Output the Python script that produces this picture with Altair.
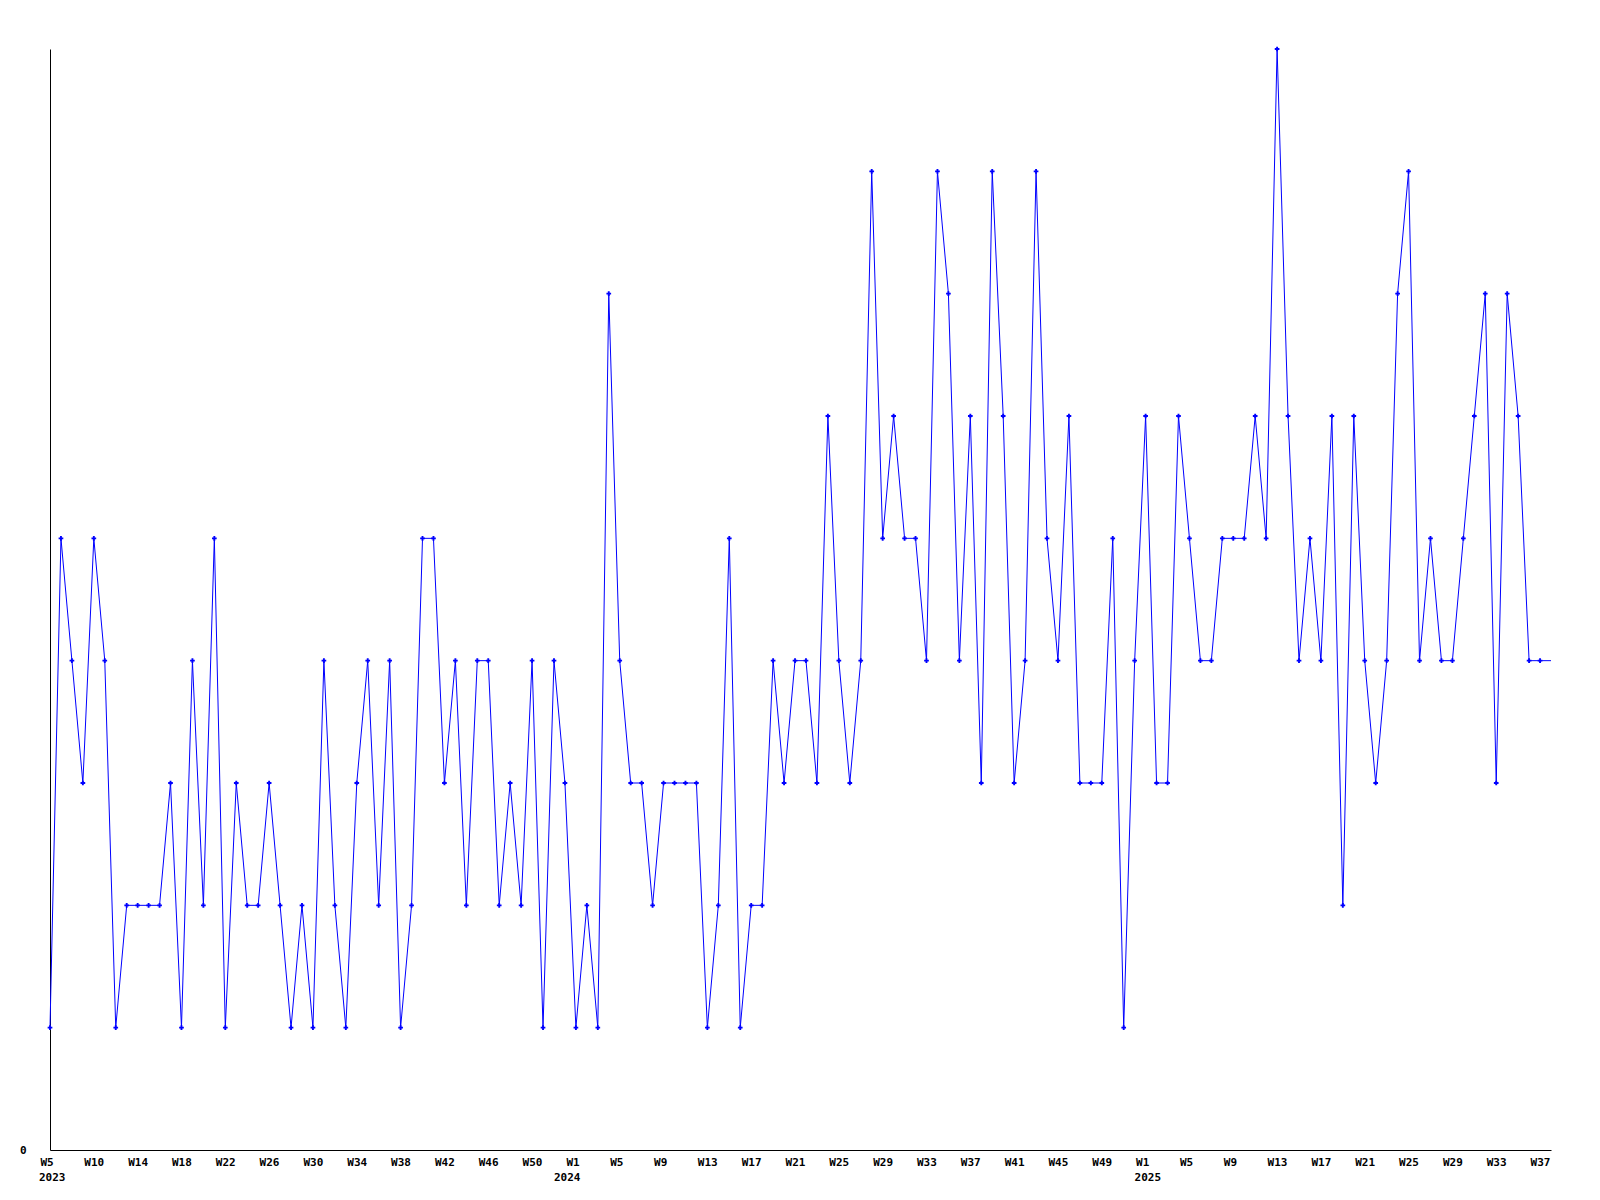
import json
import altair as alt
import pandas as pd

# Weekly values (2023 W5 .. 2025 W38)
values_2023 = [1, 5, 4, 3, 5, 4, 1, 2, 2, 2, 2, 3, 1, 4, 2, 5, 1, 3, 2, 2, 3, 2, 1, 2,
               1, 4, 2, 1, 3, 4, 2, 4, 1, 2, 5, 5, 3, 4, 2, 4, 4, 2, 3, 2, 4, 1, 4, 3]
values_2024 = [1, 2, 1, 7, 4, 3, 3, 2, 3, 3, 3, 3, 1, 2, 5, 1, 2, 2, 4, 3, 4, 4, 3, 6,
               4, 3, 4, 8, 5, 6, 5, 5, 4, 8, 7, 4, 6, 3, 8, 6, 3, 4, 8, 5, 4, 6, 3, 3,
               3, 5, 1, 4]
values_2025 = [6, 3, 3, 6, 5, 4, 4, 5, 5, 5, 6, 5, 9, 6, 4, 5, 4, 6, 2, 6, 4, 3, 4, 7,
               8, 4, 5, 4, 4, 5, 6, 7, 3, 7, 6, 4, 4, 4]

# Axis tick labels (every 4th week) and year captions
tick_labels = ["W5", "W10", "W14", "W18", "W22", "W26", "W30", "W34", "W38", "W42",
               "W46", "W50", "W1", "W5", "W9", "W13", "W17", "W21", "W25", "W29",
               "W33", "W37", "W41", "W45", "W49", "W1", "W5", "W9", "W13", "W17",
               "W21", "W25", "W29", "W33", "W37"]
years = ["2023", "2024", "2025"]
year_week_index = [0, 47, 100]

values = values_2023 + values_2024 + values_2025
df = pd.DataFrame({"i": list(range(len(values))), "v": values})
years_df = pd.DataFrame({"i": year_week_index, "year": years})
n_last = len(values) - 1

label_expr = json.dumps(tick_labels) + "[round(datum.value / 4)]"
tick_values = [4 * k for k in range(len(tick_labels))]

FONT = "DejaVu Sans Mono"
W, H = 1501, 1101

x_enc = alt.X(
    "i:Q",
    scale=alt.Scale(domain=[0, n_last], nice=False, zero=False),
    axis=alt.Axis(
        title=None, values=tick_values, labelExpr=label_expr, grid=False,
        ticks=False, tickSize=0, labelPadding=6, labelAlign="left",
        labelBaseline="top", labelOffset=-10, labelFlush=False,
        labelOverlap=False, labelBound=False,
        labelFont=FONT, labelFontSize=11, labelFontWeight="bold",
        labelColor="black", domainColor="black", domainWidth=1,
    ),
)
y_enc = alt.Y(
    "v:Q",
    scale=alt.Scale(domain=[0, 9], nice=False, zero=True),
    axis=alt.Axis(
        title=None, values=[0], format="d", grid=False, ticks=False, tickSize=0,
        labelPadding=24, labelFont=FONT, labelFontSize=11,
        labelFontWeight="bold", labelColor="black", domainColor="black",
        domainWidth=1, labelBaseline="middle",
    ),
)

line = alt.Chart(df).mark_line(color="#0000FF", strokeWidth=1, clip=False).encode(
    x=x_enc, y=y_enc
)
pts = alt.Chart(df).transform_filter(f"datum.i < {n_last}").mark_point(
    shape="cross", filled=True, color="#0000FF", size=22, opacity=1
).encode(x="i:Q", y="v:Q")

year_text = alt.Chart(years_df).mark_text(
    font=FONT, fontSize=11, fontWeight="bold", color="black",
    align="left", baseline="top", dx=-11,
).encode(x="i:Q", y=alt.value(H + 22), text="year:N")

chart = (
    alt.layer(line, pts, year_text)
    .properties(
        width=W, height=H,
        autosize=alt.AutoSizeParams(type="none"),
        padding={"left": 42, "top": 41, "right": 41, "bottom": 42},
        background="white",
    )
    .configure_view(stroke=None)
)

chart.save("out.html", embed_options={"renderer": "svg", "actions": False})
